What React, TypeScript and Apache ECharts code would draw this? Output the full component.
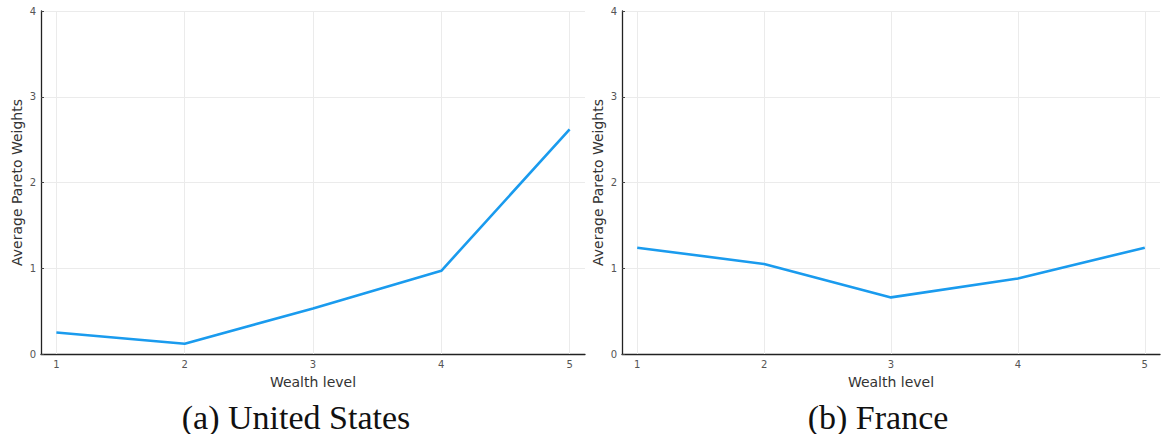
import React, { useEffect, useRef } from "react";
import * as echarts from "echarts";

const xTicks = [1, 2, 3, 4, 5];
const yTicks = [0, 1, 2, 3, 4];
const usValues = [0.25, 0.12, 0.53, 0.97, 2.62];
const frValues = [1.24, 1.05, 0.66, 0.88, 1.24];
const xLabel = "Wealth level";
const yLabel = "Average Pareto Weights";
const captions = ["(a) United States", "(b) France"];

const LINE_COLOR = "#1a9bee";
const GRID_COLOR = "#ebebeb";
const TICK_FONT = "DejaVu Sans";

function makeXAxis(gridIndex: number) {
  return {
    type: "value",
    gridIndex,
    min: 0.88,
    max: 5.12,
    name: xLabel,
    nameLocation: "middle",
    nameGap: 21,
    nameTextStyle: { fontFamily: TICK_FONT, fontSize: 14, color: "#333" },
    axisLine: { show: true, onZero: false, lineStyle: { color: "#222", width: 1.3 } },
    axisTick: { show: true, inside: true, length: 3, customValues: xTicks, lineStyle: { color: "#444" } },
    axisLabel: {
      customValues: xTicks,
      fontFamily: TICK_FONT,
      fontSize: 10,
      color: "#555",
      margin: 5,
      formatter: (v: number) => (Number.isInteger(v) ? String(v) : ""),
    },
    splitLine: { show: false },
  };
}

function makeYAxis(gridIndex: number) {
  return {
    type: "value",
    gridIndex,
    min: yTicks[0],
    max: yTicks[yTicks.length - 1],
    interval: 1,
    name: yLabel,
    nameLocation: "middle",
    nameGap: 17,
    nameTextStyle: { fontFamily: TICK_FONT, fontSize: 14, color: "#333" },
    axisLine: { show: true, lineStyle: { color: "#222", width: 1.3 } },
    axisTick: { show: true, inside: true, length: 3, lineStyle: { color: "#444" } },
    axisLabel: { fontFamily: TICK_FONT, fontSize: 10, color: "#555", margin: 5 },
    splitLine: { show: true, lineStyle: { color: GRID_COLOR, width: 1 } },
  };
}

function makeSeries(values: number[], idx: number) {
  return {
    type: "line",
    xAxisIndex: idx,
    yAxisIndex: idx,
    data: xTicks.map((x, i) => [x, values[i]]),
    showSymbol: false,
    symbol: "none",
    lineStyle: { color: LINE_COLOR, width: 2.6 },
    z: 3,
    markLine: {
      silent: true,
      symbol: "none",
      z: 1,
      label: { show: false },
      lineStyle: { color: GRID_COLOR, width: 1, type: "solid" },
      data: xTicks.map((x) => ({ xAxis: x })),
    },
  };
}

export default function App() {
  const ref = useRef<HTMLDivElement>(null);
  useEffect(() => {
    document.body.style.margin = "0";
    if (!ref.current) return;
    const chart = echarts.init(ref.current, undefined, { renderer: "svg" });
    chart.setOption({
      animation: false,
      backgroundColor: "#fff",
      grid: [
        { left: 41, top: 11, width: 544, height: 343 },
        { left: 622, top: 11, width: 538, height: 343 },
      ],
      xAxis: [makeXAxis(0), makeXAxis(1)],
      yAxis: [makeYAxis(0), makeYAxis(1)],
      series: [makeSeries(usValues, 0), makeSeries(frValues, 1)],
      graphic: [
        {
          type: "text",
          x: 296,
          y: 417,
          style: {
            text: captions[0],
            font: "34px 'Liberation Serif'",
            fill: "#111",
            textAlign: "center",
            textVerticalAlign: "middle",
          },
        },
        {
          type: "text",
          x: 878,
          y: 417,
          style: {
            text: captions[1],
            font: "34px 'Liberation Serif'",
            fill: "#111",
            textAlign: "center",
            textVerticalAlign: "middle",
          },
        },
      ],
    });
    return () => chart.dispose();
  }, []);
  return (
    <div
      ref={ref}
      style={{ position: "absolute", left: 0, top: 0, width: 1162, height: 434 }}
    />
  );
}
